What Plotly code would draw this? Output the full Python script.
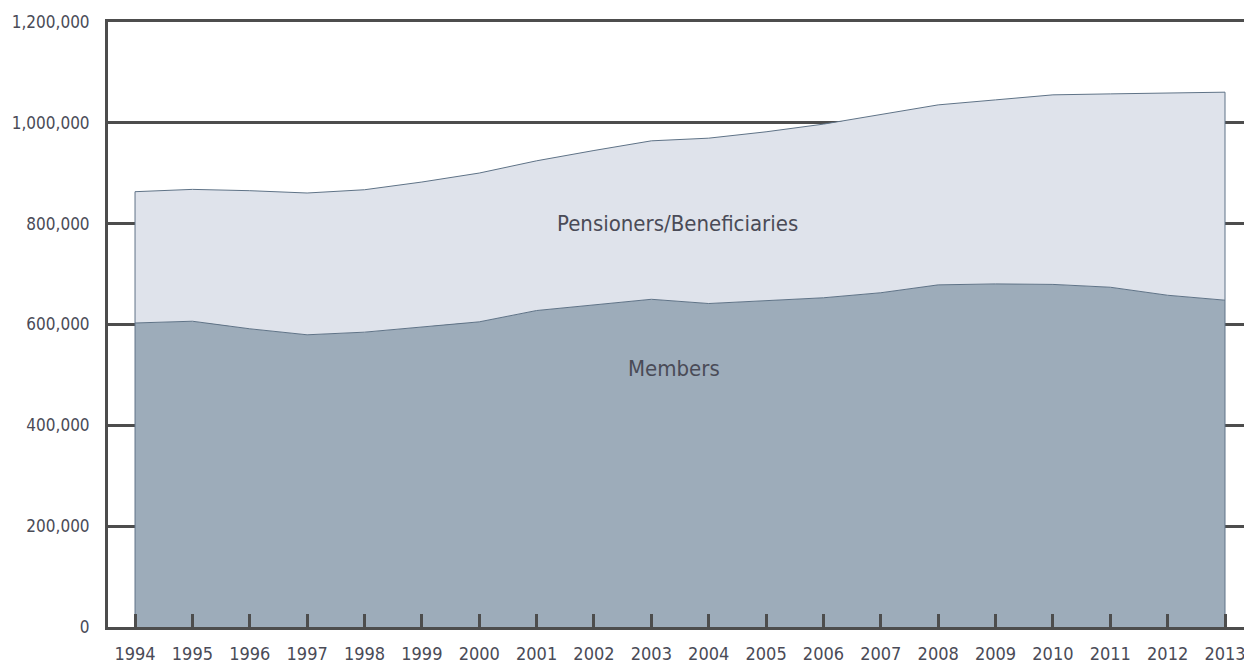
import plotly.graph_objects as go

years = list(range(1994, 2014))
members = [603000, 606500, 591500, 579600, 584800, 594700, 605300, 627700, 639000, 650000,
           641600, 647500, 653000, 663000, 678600, 680500, 679500, 673900, 658000, 648200]
totals = [863400, 868000, 865400, 860800, 867300, 882600, 900400, 924700, 945100, 964300,
          969600, 982200, 997400, 1015800, 1035600, 1045500, 1055500, 1057400, 1058700, 1060800]
pensioners = [t - m for t, m in zip(totals, members)]

y_ticks = [0, 200000, 400000, 600000, 800000, 1000000, 1200000]
y_labels = ["0", "200,000", "400,000", "600,000", "800,000", "1,000,000", "1,200,000"]

FONT = "DejaVu Sans Condensed, Liberation Sans Narrow, sans-serif"
TXT = "#4a4b57"
AX = "#4d4d4d"
EDGE = "#5f7387"

fig = go.Figure()
fig.add_trace(go.Scatter(x=years, y=members, stackgroup="s", mode="lines",
                         line=dict(color=EDGE, width=1), fillcolor="#9dacba",
                         name="Members", hoverinfo="skip"))
fig.add_trace(go.Scatter(x=years, y=pensioners, stackgroup="s", mode="lines",
                         line=dict(color=EDGE, width=1), fillcolor="#dfe3eb",
                         name="Pensioners/Beneficiaries", hoverinfo="skip"))
# vertical edges of the area
for i in (0, len(years) - 1):
    fig.add_trace(go.Scatter(x=[years[i], years[i]], y=[0, totals[i]], mode="lines",
                             line=dict(color=EDGE, width=1), showlegend=False, hoverinfo="skip"))

fig.add_annotation(x=2003.46, y=800000, text="Pensioners/Beneficiaries", showarrow=False,
                   font=dict(family=FONT, size=22, color=TXT))
fig.add_annotation(x=2003.4, y=513000, text="Members", showarrow=False,
                   font=dict(family=FONT, size=22, color=TXT))

# page body has an 8px default margin, so the figure is sized/offset to compensate
fig.update_layout(
    width=1244, height=658,
    margin=dict(l=100, r=1, t=14, b=39),
    paper_bgcolor="white", plot_bgcolor="white",
    showlegend=False,
    xaxis=dict(range=[1993.529, 2013.453], tickmode="array", tickvals=years,
               ticktext=[str(y) for y in years], automargin=False,
               ticks="inside", ticklen=13, tickwidth=3, tickcolor=AX,
               showgrid=False, zeroline=False,
               showline=True, linecolor=AX, linewidth=3, mirror=True,
               tickfont=dict(family=FONT, size=18, color=TXT), ticklabelstandoff=8),
    yaxis=dict(range=[0, 1200000], tickmode="array", tickvals=y_ticks, ticktext=y_labels,
               automargin=False,
               ticks="", showgrid=True, gridcolor=AX, gridwidth=3, zeroline=False,
               showline=True, linecolor=AX, linewidth=3,
               tickfont=dict(family=FONT, size=17, color=TXT), ticklabelstandoff=12),
)

fig.write_html("out.html")
